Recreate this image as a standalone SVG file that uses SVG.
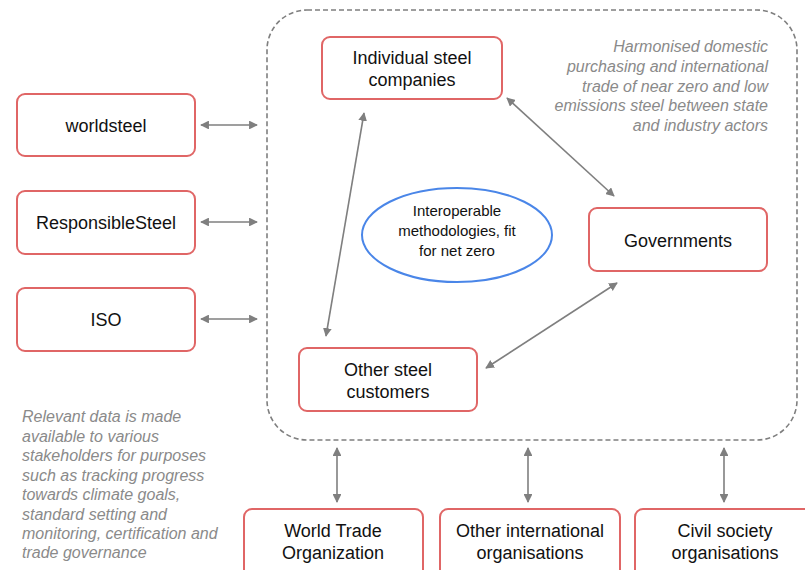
<svg xmlns="http://www.w3.org/2000/svg" width="805" height="570" viewBox="0 0 805 570">
<style>
.box{fill:#fff;stroke:#e06666;stroke-width:2}
.t{font-family:"Liberation Sans",Arial,sans-serif;font-size:18px;fill:#111;text-anchor:middle}
.e{font-size:15px}
.note{font-family:"Liberation Sans",Arial,sans-serif;font-size:16px;font-style:italic;fill:#8a8a8a}
.con{stroke:#7f7f7f;stroke-width:1.6;fill:none;marker-start:url(#ah);marker-end:url(#ah)}
</style>
<defs>
<marker id="ah" viewBox="0 0 10 10" refX="9" refY="5" markerWidth="5.5" markerHeight="5.5" orient="auto-start-reverse" markerUnits="strokeWidth">
<path d="M0,0 L10,5 L0,10 z" fill="#7f7f7f"/>
</marker>
</defs>
<rect x="267" y="10" width="530" height="430" rx="40" fill="none" stroke="#7f7f7f" stroke-width="1.6" stroke-dasharray="5,3"/>
<g id="connectors">
<line class="con" x1="201" y1="125" x2="257" y2="125"/>
<line class="con" x1="201" y1="222" x2="257" y2="222"/>
<line class="con" x1="201" y1="319" x2="257" y2="319"/>
<line class="con" x1="364" y1="113" x2="326" y2="336"/>
<line class="con" x1="507" y1="98" x2="614" y2="196"/>
<line class="con" x1="617" y1="283" x2="486" y2="368"/>
<line class="con" x1="337" y1="448" x2="337" y2="502"/>
<line class="con" x1="528" y1="448" x2="528" y2="502"/>
<line class="con" x1="724" y1="448" x2="724" y2="502"/>
</g>
<g id="worldsteel"><rect class="box" x="17" y="94" width="178" height="62" rx="8"/><text class="t" x="106" y="132">worldsteel</text></g>
<g id="responsiblesteel"><rect class="box" x="17" y="191" width="178" height="63" rx="8"/><text class="t" x="106" y="229">ResponsibleSteel</text></g>
<g id="iso"><rect class="box" x="17" y="288" width="178" height="63" rx="8"/><text class="t" x="106" y="326">ISO</text></g>
<g id="individual"><rect class="box" x="322" y="37" width="180" height="62" rx="8"/><text class="t" x="412" y="64">Individual steel</text><text class="t" x="412" y="86">companies</text></g>
<g id="governments"><rect class="box" x="589" y="208" width="178" height="63" rx="8"/><text class="t" x="678" y="247">Governments</text></g>
<g id="customers"><rect class="box" x="299" y="348" width="178" height="63" rx="8"/><text class="t" x="388" y="376">Other steel</text><text class="t" x="388" y="398">customers</text></g>
<g id="interoperable"><ellipse cx="457" cy="235" rx="95" ry="47" fill="#fff" stroke="#4a86e8" stroke-width="2"/><text class="t e" x="457" y="216">Interoperable</text><text class="t e" x="457" y="236">methodologies, fit</text><text class="t e" x="457" y="256">for net zero</text></g>
<g id="wto"><rect class="box" x="244" y="509" width="179" height="70" rx="8"/><text class="t" x="333" y="537">World Trade</text><text class="t" x="333" y="559">Organization</text></g>
<g id="otherintl"><rect class="box" x="440" y="509" width="180" height="70" rx="8"/><text class="t" x="530" y="537">Other international</text><text class="t" x="530" y="559">organisations</text></g>
<g id="civil"><rect class="box" x="635" y="509" width="180" height="70" rx="8"/><text class="t" x="725" y="537">Civil society</text><text class="t" x="725" y="559">organisations</text></g>
<g id="harmonised-note">
<text class="note" text-anchor="end" x="768" y="52">Harmonised domestic</text>
<text class="note" text-anchor="end" x="768" y="72">purchasing and international</text>
<text class="note" text-anchor="end" x="768" y="92">trade of near zero and low</text>
<text class="note" text-anchor="end" x="768" y="111">emissions steel between state</text>
<text class="note" text-anchor="end" x="768" y="131">and industry actors</text>
</g>
<g id="data-note">
<text class="note" x="22" y="422">Relevant data is made</text>
<text class="note" x="22" y="442">available to various</text>
<text class="note" x="22" y="461">stakeholders for purposes</text>
<text class="note" x="22" y="481">such as tracking progress</text>
<text class="note" x="22" y="500">towards climate goals,</text>
<text class="note" x="22" y="520">standard setting and</text>
<text class="note" x="22" y="539">monitoring, certification and</text>
<text class="note" x="22" y="558">trade governance</text>
</g>
</svg>
